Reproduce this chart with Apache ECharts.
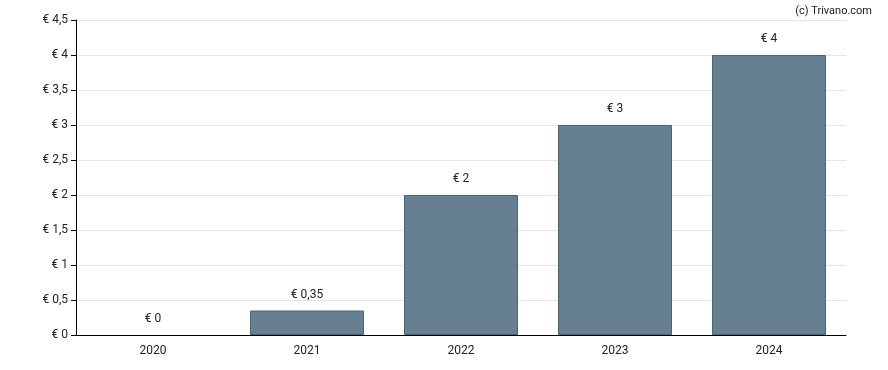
<!DOCTYPE html>
<html><head><meta charset="utf-8">
<script src="https://cdn.jsdelivr.net/npm/echarts@6/dist/echarts.min.js"></script>
<style>html,body{margin:0;padding:0;background:#fff}#c{width:888px;height:370px}</style>
</head><body><div id="c"></div>
<script>
const categories = ['2020','2021','2022','2023','2024'];
const values = [0, 0.35, 2, 3, 4];
const yTicks = [0, 0.5, 1, 1.5, 2, 2.5, 3, 3.5, 4, 4.5];

function fmt(v){ return '€ ' + String(v).replace('.', ','); }

const chart = echarts.init(document.getElementById('c'));
chart.setOption({
  animation: false,
  textStyle: { fontFamily: 'Roboto' },
  title: { text: '(c) Trivano.com', right: 11, top: 1,
    textStyle: { fontFamily: 'Roboto', fontSize: 11, fontWeight: 'normal', color: '#222' } },
  grid: { left: 76, right: 42, top: 20, bottom: 35 },
  xAxis: {
    type: 'category', data: categories,
    axisLine: { lineStyle: { color: '#000', width: 1 } },
    axisTick: { alignWithLabel: true, length: 5, lineStyle: { color: '#000' } },
    axisLabel: { color: '#222', fontSize: 12, margin: 10 }
  },
  yAxis: {
    type: 'value', min: 0, max: 4.5, interval: 0.5,
    axisLine: { show: true, lineStyle: { color: '#000' } },
    axisTick: { show: true, length: 5, lineStyle: { color: '#000' } },
    axisLabel: { color: '#222', fontSize: 12, margin: 8, formatter: v => fmt(v) },
    splitLine: { lineStyle: { color: '#e6e6e6' } }
  },
  series: [{
    type: 'bar', barCategoryGap: '26%',
    data: values.map(v => v === 0 ? { value: v, itemStyle: { borderWidth: 0 } } : v),
    itemStyle: { color: '#667f91', borderColor: '#4a6376', borderWidth: 1 },
    label: { show: true, position: 'top', distance: 10, color: '#222', fontSize: 12,
      formatter: p => fmt(p.value) }
  }]
});
</script></body></html>
